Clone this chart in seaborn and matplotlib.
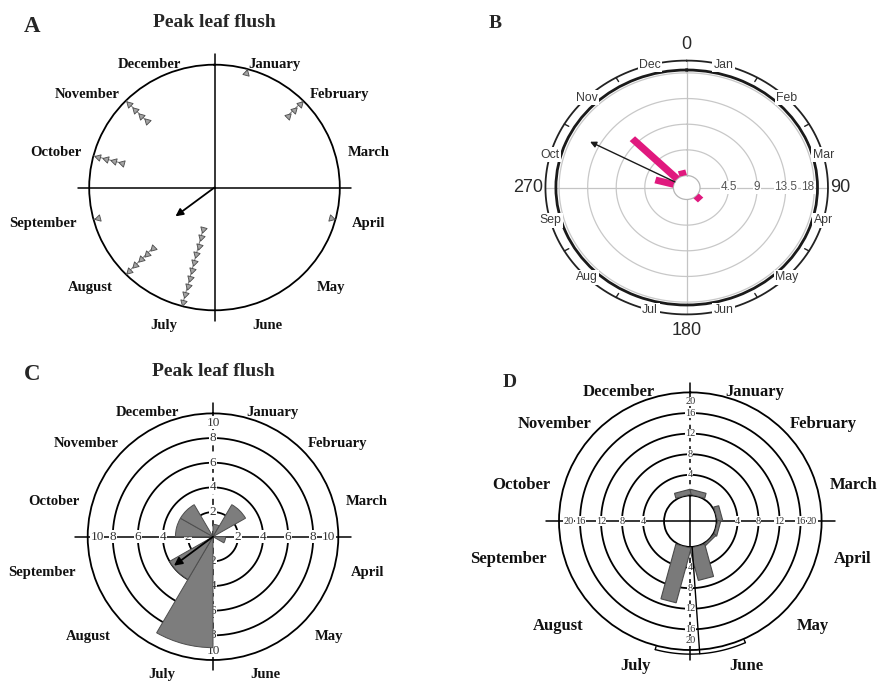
import numpy as np
import matplotlib
matplotlib.use("Agg")
import matplotlib.pyplot as plt
import seaborn as sns

sns.set_theme(style="white")
plt.rcParams["font.family"] = ["Liberation Serif", "DejaVu Serif"]

W, H = 880, 682

month_names = ["January", "February", "March", "April", "May", "June",
               "July", "August", "September", "October", "November", "December"]
month_abbr = ["Jan", "Feb", "Mar", "Apr", "May", "Jun",
              "Jul", "Aug", "Sep", "Oct", "Nov", "Dec"]

# A: individual peak-flush records per month, with the mean vector
records_a = [1, 3, 0, 1, 0, 0, 10, 5, 1, 4, 4, 0]
mean_dir_a, mean_len_a = 233.0, 0.39

# B: rose of peak leaf flush with mean vector
counts_b = [0, 0, 0, 0, 1, 0, 0, 0, 0, 3, 10, 1]
rings_b = [4.5, 9, 13.5, 18]
mean_dir_b, mean_len_b = 297.8, 15.1

# C: monthly frequency rose
counts_c = [1, 3, 0, 1, 0, 0, 9, 4, 0, 3, 3, 0]
rings_c = [2, 4, 6, 8, 10]
mean_dir_c, mean_len_c = 233.0, 3.9

# D: monthly frequency with mean direction and its confidence arc
counts_d = [1, 0, 1, 0.6, 0.4, 6.5, 11, 0, 0, 0, 0, 1]
rings_d = [4, 8, 12, 16, 20]
mean_dir_d = 176.0
ci_d = [156.0, 195.0]

month_centers = np.arange(12) * 30 + 15
month_starts = np.arange(12) * 30

fig = plt.figure(figsize=(W / 100, H / 100), dpi=100, facecolor="white")
full = np.linspace(0, 2 * np.pi, 361)


def polar_panel(cx, cy, rx, ry, rmax, origin=None):
    ax = fig.add_axes([(cx - rx) / W, 1 - (cy + ry) / H, 2 * rx / W, 2 * ry / H],
                      projection="polar")
    ax.set_theta_zero_location("N")
    ax.set_theta_direction(-1)
    ax.set_ylim(0, rmax)
    if origin is not None:
        ax.set_rorigin(origin)
    ax.set_aspect("auto")
    ax.set_xticks([])
    ax.set_yticks([])
    ax.grid(False)
    ax.set_facecolor("none")
    return ax


def rpos(ax, frac):
    o = ax.get_rorigin()
    return o + frac * (ax.get_rmax() - o)


def straight_bar(ax, center_deg, value, half_width, **kw):
    origin = ax.get_rorigin()
    th = np.deg2rad(center_deg)
    thetas, radii = [], []
    for rho, side in ((0 - origin, -1), (value - origin, -1),
                      (value - origin, 1), (0 - origin, 1)):
        thetas.append(th + side * np.arctan2(half_width, rho))
        radii.append(np.hypot(rho, half_width) + origin)
    return ax.fill(thetas, radii, **kw)


label_frac = [1.04, 1.07, 1.10, 1.135, 1.15, 1.16]


def month_labels(ax, size):
    for i, name in enumerate(month_names):
        k = min(i, 11 - i)
        ax.text(np.deg2rad(month_centers[i]), rpos(ax, label_frac[k]), name,
                ha="left" if i < 6 else "right", va="center",
                fontsize=size, fontweight="bold", color="#111111")


def radial(ax, deg, r0, r1, **kw):
    t = np.deg2rad(deg)
    ax.plot([t, t], [r0, r1], clip_on=False, **kw)


# ---------------- A ----------------
axA = polar_panel(214.5, 187.5, 125.3, 122.8, 1.0)
axA.spines["polar"].set(color="black", linewidth=1.3)
for deg in (0, 90, 180, 270):
    radial(axA, deg, 0, 1.09, color="black", lw=1.1, zorder=2)
step = 0.068
for i, n in enumerate(records_a):
    if n == 0:
        continue
    th = np.deg2rad(month_centers[i])
    radii = 0.965 - step * np.arange(n)
    axA.plot([th, th], [1.0, radii[-1]], color="#777777", lw=0.7, zorder=3)
    axA.plot(np.full(n, th), radii, ls="none", marker=(3, 0, -month_centers[i]),
             ms=5.5, mfc="#a3a3a3", mec="#4a4a4a", mew=0.6, zorder=4)
axA.annotate("", xy=(np.deg2rad(mean_dir_a), mean_len_a), xytext=(0, 0),
             arrowprops=dict(arrowstyle="-|>", color="black", lw=1.3,
                             mutation_scale=11, shrinkA=0, shrinkB=0), zorder=5)
month_labels(axA, 10.5)
fig.text(214 / W, 1 - 22.5 / H, "Peak leaf flush", ha="center", va="center",
         fontsize=14, fontweight="bold")
fig.text(32 / W, 1 - 27 / H, "A", ha="center", va="center", fontsize=16.5,
         fontweight="bold")

# ---------------- B ----------------
pink = "#E0197E"
sans = ["Liberation Sans", "DejaVu Sans"]
axB = polar_panel(686.7, 187.5, 130.8, 117.5, 18.5, origin=-2.1)
axB.spines["polar"].set(color="#1a1a1a", linewidth=2.0)
axB.spines["inner"].set(color="#b5b5b5", linewidth=0.9)
for r in rings_b:
    axB.plot(full, np.full_like(full, r), color="#c8c8c8", lw=0.9, zorder=1)
r_arc = 20.15
for deg in (0, 90, 180, 270):
    radial(axB, deg, 0, r_arc, color="#c4c4c4", lw=0.9, zorder=1)
for i, v in enumerate(counts_b):
    if v > 0:
        straight_bar(axB, month_centers[i], v, 0.6, color=pink, lw=0, zorder=3)
axB.annotate("", xy=(np.deg2rad(mean_dir_b), mean_len_b),
             xytext=(np.deg2rad(mean_dir_b), 0),
             arrowprops=dict(arrowstyle="-|>", color="#1a1a1a", lw=1.0,
                             mutation_scale=9, shrinkA=0, shrinkB=0), zorder=5)
axB.plot(full, np.full_like(full, r_arc), color="#222222", lw=1.3, clip_on=False, zorder=2)
for deg in range(30, 360, 30):
    if deg % 90:
        radial(axB, deg, r_arc - 0.8, r_arc, color="#222222", lw=1.0, zorder=2)
for i, ab in enumerate(month_abbr):
    axB.text(np.deg2rad(month_centers[i]), r_arc, ab, ha="center", va="center",
             fontsize=8.8, color="#3a3a3a", family=sans, zorder=6,
             bbox=dict(boxstyle="square,pad=0.12", fc="white", ec="none"))
for r in rings_b[:-1]:
    axB.text(np.pi / 2, r, f"{r:g}", ha="center", va="center", fontsize=8.5,
             color="#555555", family=sans, zorder=6,
             bbox=dict(boxstyle="square,pad=0.05", fc="white", ec="none"))
axB.text(np.pi / 2, rings_b[-1], f"{rings_b[-1]:g}", ha="right", va="center",
         fontsize=8.5, color="#555555", family=sans, zorder=6,
         bbox=dict(boxstyle="square,pad=0.05", fc="white", ec="none"))
axB.text(0, 21.4, "0", ha="center", va="bottom", fontsize=13, color="#2a2a2a", family=sans)
axB.text(np.pi, 21.4, "180", ha="center", va="top", fontsize=13, color="#2a2a2a", family=sans)
axB.text(np.pi / 2, 20.5, "90", ha="left", va="center", fontsize=13, color="#2a2a2a", family=sans)
axB.text(1.5 * np.pi, 20.5, "270", ha="right", va="center", fontsize=13, color="#2a2a2a", family=sans)
fig.text(495 / W, 1 - 23 / H, "B", ha="center", va="center", fontsize=14, fontweight="bold")

# ---------------- C ----------------
axC = polar_panel(213, 536.7, 125.3, 123.3, 10)
axC.spines["polar"].set(color="black", linewidth=1.3)
for r in rings_c[:-1]:
    axC.plot(full, np.full_like(full, r), color="black", lw=1.3, zorder=1)
for deg in (90, 270):
    radial(axC, deg, 0, 11.05, color="black", lw=1.1, zorder=1.5)
for deg in (0, 180):
    radial(axC, deg, 0, 10, color="black", lw=1.1, ls=(0, (4, 3)), zorder=1.5)
    radial(axC, deg, 10, 10.85, color="black", lw=1.1, zorder=1.5)
for deg in (0, 90, 180, 270):
    for r in rings_c:
        axC.text(np.deg2rad(deg), r if r < 10 else 9.25, str(r), ha="center", va="center",
                 fontsize=9.5, color="#333333", zorder=2,
                 bbox=dict(boxstyle="square,pad=0.05", fc="white", ec="none"))
axC.bar(np.deg2rad(month_starts), counts_c, width=np.deg2rad(30), align="edge",
        color="#7d7d7d", edgecolor="#4d4d4d", linewidth=0.7, zorder=3)
axC.annotate("", xy=(np.deg2rad(mean_dir_c), mean_len_c), xytext=(0, 0),
             arrowprops=dict(arrowstyle="-|>", color="black", lw=1.3,
                             mutation_scale=12, shrinkA=0, shrinkB=0), zorder=5)
month_labels(axC, 10.5)
fig.text(213 / W, 1 - 371.5 / H, "Peak leaf flush", ha="center", va="center",
         fontsize=14, fontweight="bold")
fig.text(32 / W, 1 - 375 / H, "C", ha="center", va="center", fontsize=16.5,
         fontweight="bold")

# ---------------- D ----------------
axD = polar_panel(690.3, 521.2, 131.3, 128.8, 20, origin=-5)
axD.spines["polar"].set(color="black", linewidth=1.3)
axD.spines["inner"].set(color="black", linewidth=1.3)
for r in rings_d[:-1]:
    axD.plot(full, np.full_like(full, r), color="black", lw=1.3, zorder=1)
for deg in (90, 270):
    radial(axD, deg, -5, 22.5, color="black", lw=1.1, zorder=1.5)
for deg in (0, 180):
    radial(axD, deg, -5, 0, color="black", lw=1.1, zorder=1.5)
    radial(axD, deg, 0, 20, color="black", lw=1.1, ls=(0, (4, 3)), zorder=1.5)
    radial(axD, deg, 20, 21.9, color="black", lw=1.1, zorder=1.5)
for deg in (0, 90, 180, 270):
    for r in rings_d:
        axD.text(np.deg2rad(deg), r if r < 20 else 18.2, str(r), ha="center", va="center",
                 fontsize=7.5, color="#333333", zorder=2,
                 bbox=dict(boxstyle="square,pad=0.03", fc="white", ec="none"))
for i, v in enumerate(counts_d):
    if v > 0:
        straight_bar(axD, month_centers[i], v, 1.5, facecolor="#7a7a7a",
                     edgecolor="#4a4a4a", lw=0.8, zorder=3)
radial(axD, mean_dir_d, 0, 20.8, color="black", lw=1.0, zorder=4)
ci_t = np.deg2rad(np.linspace(ci_d[0], ci_d[1], 60))
axD.plot(ci_t, np.full_like(ci_t, 20.8), color="black", lw=1.0, clip_on=False, zorder=4)
for deg in ci_d:
    radial(axD, deg, 20.2, 20.8, color="black", lw=1.0, zorder=4)
month_labels(axD, 12)
fig.text(510 / W, 1 - 383 / H, "D", ha="center", va="center", fontsize=14, fontweight="bold")

fig.savefig("out.png", dpi=100, facecolor="white")
